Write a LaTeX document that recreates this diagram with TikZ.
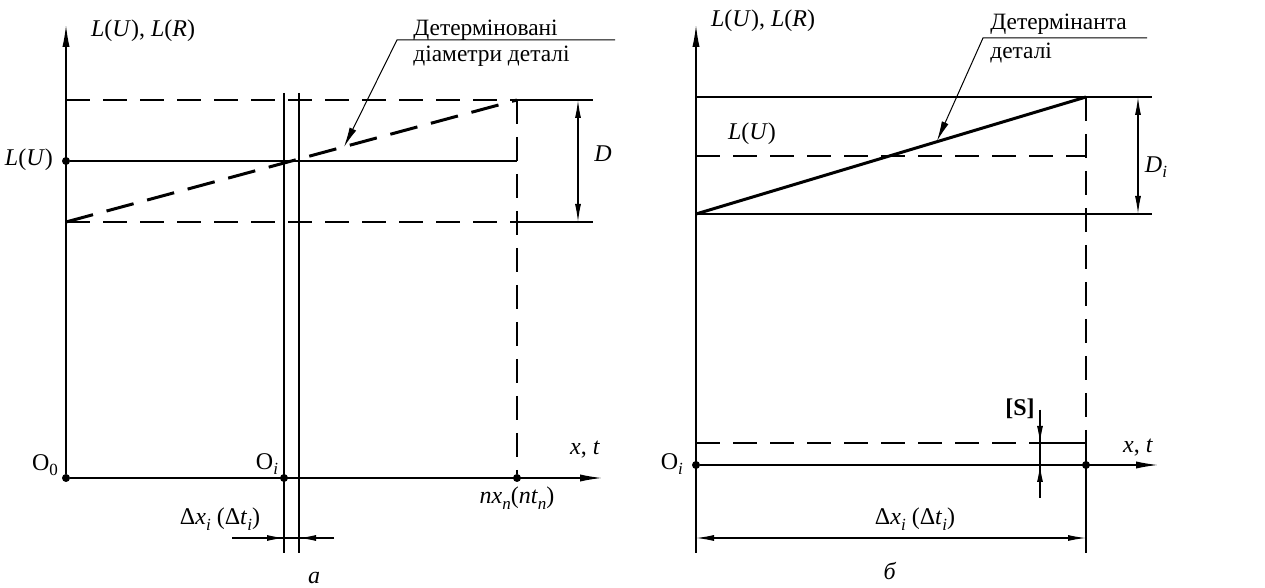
\documentclass[tikz,border=0pt]{standalone}
\usepackage{fontspec}
\setmainfont{Liberation Serif}
\usetikzlibrary{arrows.meta}
\newcommand\subit[1]{\raisebox{-0.5ex}{\fontsize{8.5}{9}\selectfont\textit{#1}}}
\newcommand\subup[1]{\raisebox{-0.5ex}{\fontsize{8.5}{9}\selectfont #1}}

\begin{document}
\begin{tikzpicture}[x=0.5pt,y=0.5pt,font=\fontsize{12}{14}\selectfont,
  line/.style={line width=0.65pt},
  axis/.style={line width=0.65pt,-{Latex[length=11pt,width=3.6pt]}},
  hidden/.style={line width=0.65pt,dash pattern=on 12pt off 6.5pt},
  det/.style={line width=1.5pt,dash pattern=on 14pt off 7pt},
  detline/.style={line width=1.5pt},
  dim/.style={line width=0.6pt,{Latex[length=9pt,width=3pt]}-{Latex[length=9pt,width=3pt]}},
  tip/.style={line width=0.6pt,-{Latex[length=8.5pt,width=3pt]}},
  lead/.style={line width=0.5pt,-{Latex[length=10pt,width=3.6pt]}},
  dot/.style={circle,fill,inner sep=0pt,minimum size=4pt},
  note/.style={font=\fontsize{11.7}{13}\selectfont,anchor=base west,inner sep=0pt}]
\useasboundingbox (0,0) rectangle (1265,588);
% panel a
\node[dot] (O0) at (66,110) {};
\coordinate (ytopA) at (66,563);
\coordinate (xendA) at (602,110);
\draw[axis] (O0) -- (ytopA);
\draw[axis] (O0) -- (xendA);
\node[dot] (OiA) at (284,110) {};
\node[dot] (nx) at (517,110) {};
\node[dot] (LUA) at (66,427) {};
\coordinate (LUendA) at (517,427);
\draw[line] (LUA) -- (LUendA);
\coordinate (upA) at (66,488);
\coordinate (upmidA) at (517,488);
\coordinate (upendA) at (593,488);
\coordinate (lowA) at (66,366);
\coordinate (lowmidA) at (517,366);
\coordinate (lowendA) at (593,366);
\draw[hidden] (upA) -- (upmidA);
\draw[hidden] (lowA) -- (lowmidA);
\draw[line] (upmidA) -- (upendA);
\draw[line] (lowmidA) -- (lowendA);
\draw[hidden] (upmidA) -- (nx);
\draw[det] (lowA) -- (upmidA);
\coordinate (vaT) at (284,495);
\coordinate (vaB) at (284,35);
\coordinate (vbT) at (299,495);
\coordinate (vbB) at (299,35);
\draw[line] (vaT) -- (vaB);
\draw[line] (vbT) -- (vbB);
\coordinate (dxL) at (232,50);
\coordinate (dxR) at (334,50);
\coordinate (dxa) at (284,50);
\coordinate (dxb) at (299,50);
\draw[line] (dxL) -- (dxR);
\draw[tip] (dxL) -- (dxa);
\draw[tip] (dxR) -- (dxb);
\coordinate (DupA) at (578,488);
\coordinate (DlowA) at (578,366);
\draw[dim] (DupA) -- (DlowA);
\coordinate (tipA) at (344,441);
\coordinate (kneeA) at (397,548);
\coordinate (endA) at (615,548);
\draw[lead] (endA) -- (kneeA) -- (tipA);
\node[note] (txtA1) at (413,552) {Детерміновані};
\node[note] (txtA2) at (413,526) {діаметри деталі};
\node[anchor=west] (axA) at (84,557) {\textit{L}(\textit{U}), \textit{L}(\textit{R})};
\node[anchor=east] (LUlabA) at (60,428) {\textit{L}(\textit{U})};
\node (O0lab) at (45,123) {O\subup{0}};
\node (Oilab) at (267,124) {O\subit{i}};
\node (xtA) at (585,138) {\textit{x}, \textit{t}};
\node (nxlab) at (517,90) {\textit{nx}\subit{n}(\textit{nt}\subit{n})};
\node (dxlabA) at (220,69) {Δ\textit{x}\subit{i} (Δ\textit{t}\subit{i})};
\node (Dlab) at (603,434) {\textit{D}};
\node (capA) at (314,10) {\textit{а}};
% panel b
\node[dot] (OiB) at (696,123) {};
\coordinate (ytopB) at (696,563);
\coordinate (ybotB) at (696,35);
\coordinate (xendB) at (1158,123);
\draw[axis] (ybotB) -- (ytopB);
\draw[axis] (OiB) -- (xendB);
\node[dot] (endB) at (1086,123) {};
\coordinate (upB) at (696,491);
\coordinate (upmidB) at (1086,491);
\coordinate (upendB) at (1152,491);
\coordinate (lowB) at (696,374);
\coordinate (lowendB) at (1152,374);
\draw[line] (upB) -- (upendB);
\draw[line] (lowB) -- (lowendB);
\coordinate (LUB) at (696,432);
\coordinate (LUendB) at (1086,432);
\draw[hidden] (LUB) -- (LUendB);
\draw[detline] (lowB) -- (upmidB);
\coordinate (SB) at (696,145);
\coordinate (SmidB) at (1040,145);
\coordinate (SendB) at (1086,145);
\coordinate (vbotB) at (1086,35);
\draw[hidden] (upmidB) -- (SendB);
\draw[line] (SendB) -- (vbotB);
\draw[hidden] (SB) -- (SmidB);
\draw[line] (SmidB) -- (SendB);
\coordinate (Stop) at (1040,178);
\coordinate (Sbot) at (1040,90);
\coordinate (Saxis) at (1040,123);
\draw[line] (Stop) -- (Sbot);
\draw[tip] (Stop) -- (SmidB);
\draw[tip] (Sbot) -- (Saxis);
\coordinate (dxLB) at (696,50);
\coordinate (dxRB) at (1086,50);
\draw[dim] (dxLB) -- (dxRB);
\coordinate (DupB) at (1138,491);
\coordinate (DlowB) at (1138,374);
\draw[dim] (DupB) -- (DlowB);
\coordinate (tipB) at (937,447);
\coordinate (kneeB) at (983,550);
\coordinate (endlB) at (1147,550);
\draw[lead] (endlB) -- (kneeB) -- (tipB);
\node[note] (txtB1) at (990,558) {Детермінанта};
\node[note] (txtB2) at (990,529) {деталі};
\node[anchor=west] (axB) at (704,567) {\textit{L}(\textit{U}), \textit{L}(\textit{R})};
\node (LUlabB) at (752,454) {\textit{L}(\textit{U})};
\node[anchor=east] (OilabB) at (690,124) {O\subit{i}};
\node (xtB) at (1138,140) {\textit{x}, \textit{t}};
\node (Slab) at (1020,179) {\textbf{[S]}};
\node (dxlabB) at (915,69) {Δ\textit{x}\subit{i} (Δ\textit{t}\subit{i})};
\node (Dilab) at (1156,421) {\textit{D}\subit{i}};
\node (capB) at (890,17) {\textit{б}};
\end{tikzpicture}
\end{document}
